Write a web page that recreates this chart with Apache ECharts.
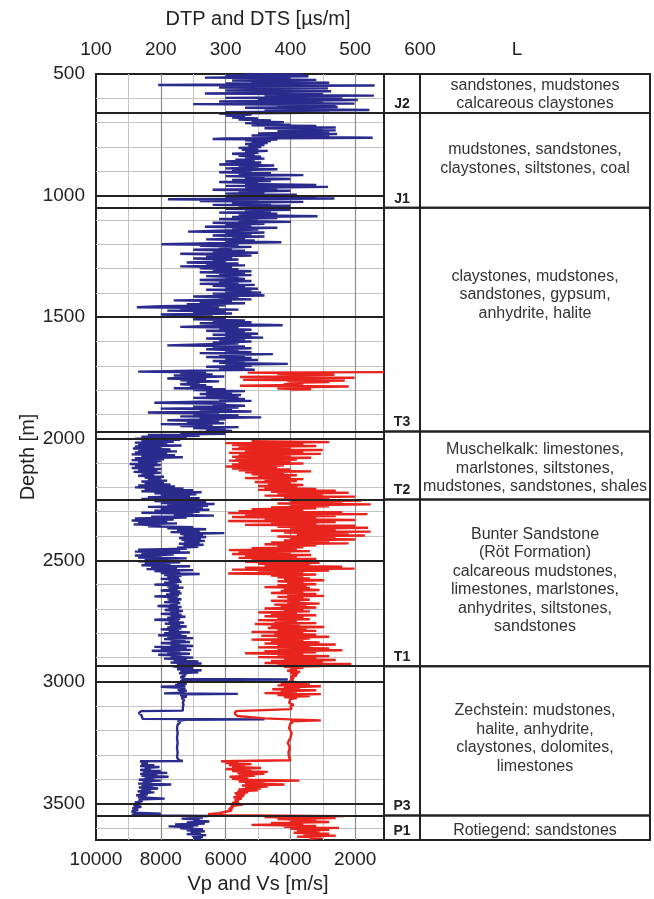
<!DOCTYPE html>
<html><head><meta charset="utf-8">
<script src="https://cdn.jsdelivr.net/npm/echarts@6/dist/echarts.min.js"></script>
<style>html,body{margin:0;padding:0;background:#fff}#c{width:654px;height:899px}</style>
</head><body><div id="c"></div>
<script>
// ---------- DATA ----------
const depthTicks = [500, 1000, 1500, 2000, 2500, 3000, 3500];
const dtTicks = [100, 200, 300, 400, 500, 600];
const velocityTicks = [10000, 8000, 6000, 4000, 2000];

const formationCodes = ['J2', 'J1', 'T3', 'T2', 'T1', 'P3', 'P1'];
const formationTops  = [500, 660, 1050, 1970, 2250, 2935, 3549];
const formationBases = [660, 1050, 1970, 2250, 2935, 3549, 3650];
const lithology = [
  'sandstones, mudstones\ncalcareous claystones',
  'mudstones, sandstones,\nclaystones, siltstones, coal',
  'claystones, mudstones,\nsandstones, gypsum,\nanhydrite, halite',
  'Muschelkalk: limestones,\nmarlstones, siltstones,\nmudstones, sandstones, shales',
  'Bunter Sandstone\n(Röt Formation)\ncalcareous mudstones,\nlimestones, marlstones,\nanhydrites, siltstones,\nsandstones',
  'Zechstein: mudstones,\nhalite, anhydrite,\nclaystones, dolomites,\nlimestones',
  'Rotiegend: sandstones'
];

// DTP log: [depth m, DT us/m]
const dtpLog = [
[500,330],[503,420],[506,300],[509,428],[512,350],[515,268],[518,400],[521,360],[524,440],[527,310],[530,410],[533,340],[536,460],[539,300],[542,380],[545,196],[547,530],[550,330],[553,420],[556,290],[559,458],[562,340],[565,400],[568,300],[571,463],[574,350],[577,420],[580,268],[583,450],[586,380],[589,529],[592,360],[595,440],[598,300],[601,480],[604,350],[607,504],[610,400],[613,290],[616,450],[619,360],[622,499],[624,250],[627,420],[630,470],[633,380],[636,473],[639,330],[642,440],[645,400],[648,522],[651,360],[654,460],[657,300],[660,427],
[663,290],[667,340],[671,300],[675,330],[679,310],[683,350],[687,320],[691,370],[695,340],[698,390],[702,330],[705,360],[708,400],[711,340],[714,440],[717,380],[720,470],[723,360],[726,450],[729,400],[732,470],[735,380],[738,460],[741,420],[744,350],[747,472],[750,400],[753,340],[756,460],[759,420],[762,527],[765,300],[767,280],[770,380],[773,330],[776,370],[780,340],[784,365],[788,330],[792,360],[796,335],[800,355],[804,320],[808,350],[812,325],[816,365],[820,330],[824,350],[828,310],[832,345],[836,320],[840,355],[844,330],[848,360],[852,315],[856,345],[860,300],[864,355],[868,330],[872,290],[876,375],[880,320],[884,350],[888,300],[892,380],[896,310],[900,340],[904,290],[908,370],[912,320],[916,420],[920,300],[924,360],[928,330],[932,400],[936,310],[940,370],[944,290],[948,350],[952,330],[956,440],[960,300],[964,458],[968,330],[972,380],[976,280],[980,400],[984,320],[988,360],[992,300],[996,410],[1000,330],[1004,440],[1008,300],[1012,468],[1015,211],[1018,350],[1022,260],[1026,420],[1030,310],[1034,370],[1038,280],[1042,400],[1046,320],[1050,350],
[1054,300],[1058,400],[1062,330],[1066,370],[1070,290],[1074,380],[1078,320],[1082,360],[1085,442],[1088,310],[1092,380],[1096,290],[1100,350],[1104,320],[1108,401],[1112,280],[1116,360],[1120,300],[1124,340],[1128,268],[1132,380],[1136,310],[1140,350],[1144,290],[1148,242],[1152,360],[1156,300],[1160,340],[1164,280],[1168,360],[1172,310],[1176,330],[1180,270],[1184,345],[1188,300],[1192,386],[1196,280],[1200,201],[1203,320],[1207,260],[1211,340],[1215,290],[1219,310],[1223,250],[1227,330],[1231,280],[1235,350],[1239,230],[1243,300],[1247,340],[1251,270],[1255,310],[1259,250],[1263,320],[1267,280],[1271,300],[1275,240],[1279,320],[1283,270],[1287,330],[1291,230],[1295,310],[1299,260],[1303,320],[1307,280],[1311,340],[1315,260],[1319,330],[1323,290],[1327,340],[1331,270],[1335,320],[1339,300],[1343,330],[1347,260],[1351,340],[1355,290],[1359,320],[1363,260],[1367,345],[1371,280],[1375,330],[1379,300],[1383,350],[1387,270],[1391,340],[1395,300],[1399,355],[1403,280],[1407,340],[1411,360],[1415,250],[1419,320],[1423,290],[1427,340],[1431,220],[1435,310],[1439,260],[1443,330],[1447,240],[1451,300],[1455,200],[1459,163],[1462,290],[1465,230],[1469,320],[1473,210],[1477,300],[1481,250],[1485,310],[1489,200],[1493,280],[1497,230],[1501,270],[1505,300],[1509,250],[1513,330],[1517,280],[1521,340],[1525,260],[1529,320],[1533,388],[1536,280],[1540,230],[1544,320],[1548,290],[1552,340],[1556,270],[1560,330],[1564,300],[1568,350],[1572,280],[1576,340],[1580,300],[1584,358],[1588,270],[1592,330],[1596,290],[1600,340],[1604,280],[1608,320],[1612,260],[1616,210],[1620,330],[1624,280],[1628,340],[1632,270],[1636,320],[1640,300],[1644,340],[1648,260],[1652,373],[1656,290],[1660,330],[1664,270],[1668,340],[1672,300],[1676,350],[1680,280],[1684,330],[1688,290],[1692,396],[1696,300],[1700,340],[1704,270],[1708,330],[1712,290],[1716,345],[1720,250],[1724,165],[1728,270],[1732,230],[1736,280],[1740,220],[1744,298],[1748,240],[1752,210],[1756,270],[1760,230],[1764,290],[1768,240],[1772,260],[1776,230],[1780,270],[1784,245],[1788,280],[1792,220],[1796,300],[1800,250],[1804,330],[1808,270],[1812,310],[1816,260],[1820,324],[1824,270],[1828,320],[1832,250],[1836,330],[1840,290],[1844,340],[1848,260],[1852,190],[1856,300],[1860,280],[1864,330],[1868,250],[1872,320],[1876,200],[1880,310],[1884,260],[1888,340],[1892,180],[1896,290],[1900,250],[1904,320],[1908,230],[1912,355],[1916,260],[1920,300],[1924,210],[1928,290],[1932,240],[1936,298],[1940,200],[1944,280],[1948,230],[1952,320],[1956,250],[1960,300],[1964,270],[1968,310],[1972,260],
[1976,230],[1980,300],[1984,180],[1988,260],[1992,170],[1996,240],[2000,160],[2004,230],[2008,170],[2012,220],[2016,160],[2020,210],[2024,165],[2028,232],[2032,160],[2036,200],[2040,157],[2044,215],[2048,165],[2052,225],[2056,160],[2060,210],[2064,155],[2068,222],[2072,170],[2076,234],[2080,160],[2084,205],[2088,155],[2092,200],[2096,165],[2100,195],[2104,152],[2108,200],[2112,160],[2116,190],[2120,155],[2124,201],[2128,165],[2132,195],[2136,158],[2140,200],[2144,170],[2148,190],[2152,165],[2156,205],[2160,175],[2164,200],[2168,180],[2172,210],[2176,170],[2180,205],[2184,175],[2188,215],[2192,165],[2196,222],[2200,160],[2204,235],[2208,175],[2212,250],[2216,170],[2220,263],[2224,190],[2228,255],[2232,200],[2236,245],[2240,180],[2244,260],[2248,170],[2252,240],
[2256,190],[2260,270],[2264,200],[2268,283],[2272,210],[2276,273],[2280,180],[2284,265],[2288,200],[2292,275],[2296,190],[2300,260],[2304,170],[2308,250],[2312,220],[2316,282],[2320,185],[2324,240],[2328,160],[2332,220],[2336,155],[2340,210],[2344,165],[2348,225],[2352,158],[2356,200],[2360,180],[2364,250],[2368,210],[2372,270],[2376,225],[2380,260],[2384,215],[2388,298],[2392,230],[2396,265],[2400,235],[2404,270],[2408,228],[2412,262],[2416,232],[2420,268],[2424,236],[2428,260],[2432,228],[2436,266],[2440,235],[2444,258],[2448,225],[2452,240],[2456,165],[2460,230],[2464,160],[2468,245],[2472,170],[2476,220],[2480,160],[2484,200],[2488,165],[2492,240],[2496,175],[2500,210],[2504,165],[2508,230],[2512,175],[2516,215],[2520,170],[2524,245],[2528,185],[2532,225],[2536,178],[2540,250],[2544,190],[2548,230],[2552,200],[2556,260],[2560,205],[2564,232],[2568,210],[2572,228],[2576,200],[2580,230],[2584,212],[2588,232],[2592,205],[2596,225],[2600,190],[2604,228],[2608,210],[2612,235],[2616,212],[2620,226],[2624,200],[2628,230],[2632,214],[2636,232],[2640,208],[2644,228],[2648,190],[2652,226],[2656,210],[2660,232],[2664,212],[2668,228],[2672,205],[2676,230],[2680,214],[2684,226],[2688,195],[2692,232],[2696,212],[2700,228],[2704,206],[2708,234],[2712,214],[2716,228],[2720,200],[2724,232],[2728,215],[2732,238],[2736,210],[2740,230],[2744,190],[2748,228],[2752,212],[2756,236],[2760,206],[2764,230],[2768,214],[2772,240],[2776,210],[2780,232],[2784,200],[2788,228],[2792,212],[2796,245],[2800,205],[2804,232],[2808,196],[2812,240],[2816,210],[2820,250],[2824,205],[2828,238],[2832,215],[2836,245],[2840,200],[2844,230],[2848,215],[2852,250],[2856,190],[2860,240],[2864,200],[2868,247],[2872,186],[2876,230],[2880,210],[2884,245],[2888,196],[2892,232],[2896,215],[2900,250],[2904,205],[2908,240],[2912,220],[2916,258],[2920,215],[2924,263],[2928,225],[2932,248],[2936,218],
[2940,215],[2944,250],[2948,225],[2952,263],[2956,230],[2960,258],[2964,228],[2968,240],[2972,232],[2976,238],[2980,230],[2984,236],[2988,232],[2990,396],[2992,240],[2996,230],[3000,236],[3004,225],[3008,240],[3012,222],[3016,238],[3020,200],[3024,232],[3028,238],[3032,226],[3036,240],[3040,228],[3044,236],[3047,205],[3049,319],[3051,236],[3055,230],[3060,240],[3066,232],[3074,236],[3084,234],[3094,235],[3104,234],[3112,236],[3118,234],[3120,170],[3128,166],[3136,170],[3144,168],[3152,172],[3154,360],[3156,240],[3160,226],[3166,230],[3175,226],[3190,225],[3210,226],[3230,225],[3250,226],[3270,225],[3290,226],[3310,225],[3322,228],[3325,234],[3326,168],
[3330,166],[3334,180],[3338,170],[3342,190],[3346,168],[3350,198],[3354,175],[3358,185],[3362,168],[3366,200],[3370,172],[3374,210],[3378,168],[3382,195],[3386,170],[3390,212],[3394,175],[3398,190],[3402,166],[3406,200],[3410,172],[3414,186],[3418,165],[3422,216],[3426,170],[3430,188],[3434,166],[3438,196],[3442,170],[3446,185],[3450,164],[3454,190],[3458,168],[3462,180],[3466,162],[3470,178],[3474,165],[3480,206],[3484,166],[3490,172],[3496,160],[3502,168],[3508,158],[3514,170],[3520,156],[3526,165],[3532,155],[3538,160],[3542,200],[3546,155],[3549,200],[3551,273],
[3554,240],[3558,265],[3562,232],[3566,260],[3570,250],[3574,275],[3578,240],[3582,268],[3586,222],[3590,258],[3594,212],[3598,250],[3602,230],[3606,265],[3610,240],[3614,268],[3618,246],[3622,262],[3626,240],[3630,270],[3634,248],[3638,265],[3642,250],[3646,262]
];

// DTS log, upper interval: [depth m, DT us/m]
const dtsLogUpper = [
[1726,545],[1728,334],[1731,420],[1734,380],[1737,468],[1740,390],[1743,430],[1746,322],[1749,499],[1752,400],[1755,440],[1758,327],[1761,484],[1764,395],[1767,460],[1770,400],[1773,420],[1776,390],[1779,410],[1782,322],[1785,490],[1788,400],[1791,420],[1794,380],[1797,432],[1800,400]
];

// DTS log, lower interval
const dtsLogLower = [
[2010,340],[2014,460],[2018,300],[2022,420],[2026,310],[2030,440],[2034,320],[2038,400],[2042,310],[2046,450],[2050,330],[2054,420],[2058,305],[2062,447],[2066,320],[2070,400],[2074,310],[2078,432],[2082,315],[2086,410],[2090,305],[2094,400],[2098,320],[2102,420],[2106,310],[2110,390],[2114,300],[2118,380],[2122,310],[2126,400],[2130,320],[2134,432],[2138,330],[2142,390],[2146,340],[2150,410],[2154,350],[2158,400],[2162,330],[2166,420],[2170,360],[2174,410],[2178,345],[2182,400],[2186,365],[2190,420],[2194,350],[2198,411],[2202,360],[2206,440],[2210,350],[2214,470],[2218,370],[2222,490],[2226,380],[2230,450],[2234,360],[2238,500],[2242,390],[2246,460],[2250,370],[2254,510],[2258,400],[2262,480],[2266,380],[2270,524],[2274,400],[2278,460],[2282,370],[2286,440],[2290,340],[2294,420],[2298,320],[2302,480],[2306,304],[2310,519],[2314,330],[2318,470],[2322,310],[2326,440],[2330,360],[2334,500],[2338,304],[2342,470],[2346,370],[2350,440],[2354,330],[2358,500],[2362,380],[2366,520],[2370,400],[2374,470],[2378,370],[2382,524],[2386,390],[2390,490],[2394,410],[2398,515],[2402,380],[2406,470],[2410,400],[2414,500],[2418,390],[2422,460],[2426,370],[2430,490],[2434,360],[2438,440],[2442,380],[2446,420],[2450,340],[2454,410],[2458,305],[2462,430],[2466,320],[2470,400],[2474,310],[2478,432],[2482,330],[2486,410],[2490,320],[2494,440],[2498,340],[2502,420],[2506,330],[2510,445],[2514,350],[2518,430],[2522,360],[2526,480],[2530,330],[2534,499],[2538,310],[2542,460],[2546,350],[2550,420],[2554,304],[2558,440],[2562,370],[2566,420],[2570,380],[2574,430],[2578,390],[2582,452],[2586,380],[2590,420],[2594,395],[2598,440],[2602,380],[2606,425],[2610,360],[2614,430],[2618,390],[2622,445],[2626,385],[2630,420],[2634,370],[2638,440],[2642,395],[2646,452],[2650,380],[2654,420],[2658,395],[2662,430],[2666,370],[2670,415],[2674,395],[2678,445],[2682,375],[2686,425],[2690,385],[2694,440],[2698,360],[2702,420],[2706,390],[2710,430],[2714,350],[2718,410],[2722,370],[2726,440],[2730,360],[2734,420],[2738,380],[2742,430],[2746,350],[2750,410],[2754,375],[2758,440],[2762,345],[2766,415],[2770,370],[2774,452],[2778,365],[2782,425],[2786,380],[2790,440],[2794,340],[2798,420],[2802,375],[2806,440],[2810,355],[2814,460],[2818,380],[2822,430],[2826,340],[2830,420],[2834,370],[2838,445],[2842,360],[2846,470],[2850,380],[2854,430],[2858,350],[2862,460],[2866,380],[2870,480],[2874,360],[2878,440],[2882,330],[2886,420],[2890,380],[2894,460],[2898,350],[2902,440],[2906,390],[2910,470],[2914,370],[2918,450],[2922,360],[2926,494],[2930,380],[2934,460],
[2938,390],[2942,420],[2946,400],[2950,410],[2954,395],[2958,415],[2962,400],[2966,412],[2970,402],[2974,410],[2978,400],[2982,406],[2986,400],[2990,401],[2994,405],[2998,398],[3002,408],[3006,385],[3010,430],[3014,380],[3018,447],[3022,390],[3026,415],[3030,372],[3034,440],[3038,385],[3042,410],[3046,360],[3050,447],[3054,380],[3058,430],[3062,390],[3066,410],[3070,400],[3078,402],[3086,398],[3094,405],[3100,400],[3106,400],[3112,402],[3118,400],[3120,316],[3130,314],[3140,318],[3150,360],[3154,400],[3158,447],[3162,400],[3166,404],[3170,400],[3190,398],[3210,402],[3230,400],[3250,396],[3270,399],[3290,397],[3310,398],[3322,400],[3326,293],[3330,320],[3334,300],[3338,340],[3342,305],[3346,330],[3350,310],[3354,355],[3358,300],[3362,340],[3366,310],[3370,365],[3374,318],[3378,360],[3382,320],[3386,345],[3390,306],[3394,335],[3398,310],[3402,330],[3406,414],[3410,320],[3414,360],[3418,330],[3422,391],[3426,325],[3430,365],[3434,330],[3438,355],[3442,320],[3446,350],[3450,318],[3454,335],[3458,314],[3462,330],[3466,316],[3470,328],[3474,312],[3480,325],[3486,314],[3492,320],[3498,310],[3504,327],[3510,308],[3516,312],[3522,305],[3528,310],[3534,300],[3540,290],[3544,273],[3548,300],
[3552,483],[3556,360],[3560,470],[3564,380],[3568,440],[3572,400],[3576,460],[3580,370],[3584,420],[3588,340],[3592,440],[3596,390],[3600,475],[3604,400],[3608,460],[3612,410],[3616,445],[3620,405],[3624,460],[3628,420],[3632,470],[3636,410],[3640,450],[3645,430]
];

// ---------- LAYOUT / STYLE ----------
const FONT = '"Liberation Sans", Arial, Helvetica, sans-serif';
const L = { left: 96, top: 74, height: 766, dataRight: 384, colSplit: 420, right: 650 };
const pxPerDt = (L.colSplit - L.left) / (dtTicks[dtTicks.length - 1] - dtTicks[0]);
const dataMaxDt = dtTicks[0] + (L.dataRight - L.left) / pxPerDt;
const splitFrac = (L.colSplit - L.dataRight) / (L.right - L.dataRight);
const lithOffset = [1, -1, -25, 3, -2, -2, 3];
const BLUE = '#2b2b8e', RED = '#e8241e', INK = '#222';
const depthMin = 500, depthMax = 3650;
const LW = 2.4;

const toXY = arr => arr.map(p => [p[1], p[0]]);

const chart = echarts.init(document.getElementById('c'), null, { renderer: 'canvas' });
chart.setOption({
  backgroundColor: '#fff',
  animation: false,
  grid: [
    { left: L.left, top: L.top, width: L.dataRight - L.left, height: L.height, show: true, borderColor: INK, borderWidth: 2, backgroundColor: 'transparent' },
    { left: L.dataRight, top: L.top, width: L.right - L.dataRight, height: L.height },
    { left: L.left, top: L.top, width: L.colSplit - L.left, height: L.height }
  ],
  xAxis: [
    { gridIndex: 0, type: 'value', position: 'top', min: dtTicks[0], max: dataMaxDt, interval: 50,
      axisLine: { show: false }, axisTick: { show: false }, axisLabel: { show: false },
      splitLine: { show: true, showMinLine: false, showMaxLine: false, lineStyle: { color: '#c4c4c4', width: 1 } } },
    { gridIndex: 0, type: 'value', position: 'bottom', min: dtTicks[0], max: dataMaxDt, interval: 100,
      axisLine: { show: false }, axisTick: { show: false }, axisLabel: { show: false },
      splitLine: { show: true, showMinLine: false, showMaxLine: false, lineStyle: { color: '#8e8e8e', width: 1.2 } } },
    { gridIndex: 2, type: 'value', position: 'top', min: dtTicks[0], max: dtTicks[dtTicks.length - 1], interval: 100,
      axisLine: { show: false }, axisTick: { show: false }, splitLine: { show: false },
      axisLabel: { margin: 15, fontSize: 19, color: INK, fontFamily: FONT, formatter: v => dtTicks.includes(v) ? String(v) : '' },
      name: 'DTP and DTS [µs/m]', nameLocation: 'middle', nameGap: 45,
      nameTextStyle: { fontSize: 20, color: INK, fontFamily: FONT } },
    { gridIndex: 2, type: 'value', position: 'bottom', inverse: true, min: 0, max: 10000, interval: 2000,
      axisLine: { show: false }, axisTick: { show: false }, splitLine: { show: false },
      axisLabel: { margin: 13, fontSize: 19, color: INK, fontFamily: FONT, formatter: v => velocityTicks.includes(v) ? String(v) : '' },
      name: 'Vp and Vs [m/s]', nameLocation: 'middle', nameGap: 34,
      nameTextStyle: { fontSize: 20, color: INK, fontFamily: FONT } },
    { gridIndex: 1, type: 'value', position: 'top', min: 0, max: 1,
      axisLine: { show: false }, axisTick: { show: false }, axisLabel: { show: false }, splitLine: { show: false },
      name: 'L', nameLocation: 'middle', nameGap: 15,
      nameTextStyle: { fontSize: 19, color: INK, fontFamily: FONT } }
  ],
  yAxis: [
    { gridIndex: 0, type: 'value', position: 'left', inverse: true, min: depthMin, max: depthMax, interval: 100,
      axisLine: { show: false }, axisTick: { show: false }, axisLabel: { show: false },
      splitLine: { show: true, showMinLine: false, showMaxLine: false, lineStyle: { color: '#c4c4c4', width: 1 } } },
    { gridIndex: 0, type: 'value', position: 'left', inverse: true, min: depthMin, max: depthMax, interval: 500, z: 5,
      axisLine: { show: false }, axisTick: { show: false },
      axisLabel: { margin: 11, fontSize: 19, color: INK, fontFamily: FONT, formatter: v => depthTicks.includes(v) ? String(v) : '' },
      splitLine: { show: true, showMinLine: false, showMaxLine: false, lineStyle: { color: INK, width: 2 } },
      name: 'Depth [m]', nameLocation: 'middle', nameGap: 58,
      nameTextStyle: { fontSize: 20, color: INK, fontFamily: FONT } },
    { gridIndex: 1, type: 'value', inverse: true, min: depthMin, max: depthMax, show: false },
    { gridIndex: 2, type: 'value', inverse: true, min: depthMin, max: depthMax, show: false }
  ],
  series: [
    { name: 'DTP', type: 'line', xAxisIndex: 0, yAxisIndex: 0, data: toXY(dtpLog),
      showSymbol: false, symbol: 'none', clip: true,
      lineStyle: { color: BLUE, width: LW }, z: 3,
      markLine: { silent: true, symbol: ['none', 'none'], label: { show: false },
        lineStyle: { color: INK, width: 2, type: 'solid' }, emphasis: { disabled: true },
        data: formationTops.slice(1).map(v => ({ yAxis: v })) } },
    { name: 'DTS', type: 'line', xAxisIndex: 0, yAxisIndex: 0, data: toXY(dtsLogUpper),
      showSymbol: false, symbol: 'none', clip: true, lineStyle: { color: RED, width: LW }, z: 3 },
    { name: 'DTS2', type: 'line', xAxisIndex: 0, yAxisIndex: 0, data: toXY(dtsLogLower),
      showSymbol: false, symbol: 'none', clip: true, lineStyle: { color: RED, width: LW }, z: 3 },
    { name: 'Formations', type: 'custom', xAxisIndex: 4, yAxisIndex: 2, silent: true,
      data: formationCodes.map((c, i) => [0, formationTops[i], formationBases[i], i]),
      encode: { x: 0, y: [1, 2] },
      renderItem: (params, api) => {
        const top = api.value(1), base = api.value(2), i = api.value(3);
        const p0 = api.coord([0, top]);
        const p1 = api.coord([1, base]);
        const xs = api.coord([splitFrac, top])[0];
        const x0 = p0[0], y0 = p0[1], x1 = p1[0], y1 = p1[1];
        return { type: 'group', children: [
          { type: 'rect', shape: { x: x0, y: y0, width: xs - x0, height: y1 - y0 }, style: { fill: 'none', stroke: INK, lineWidth: 2 } },
          { type: 'rect', shape: { x: xs, y: y0, width: x1 - xs, height: y1 - y0 }, style: { fill: 'none', stroke: INK, lineWidth: 2 } },
          { type: 'text', style: { text: formationCodes[i], x: (x0 + xs) / 2, y: y1 - 2, align: 'center', verticalAlign: 'bottom',
              fontSize: 14, fontWeight: 'bold', fontFamily: FONT, fill: INK } },
          { type: 'text', style: { text: lithology[i], x: (xs + x1) / 2, y: (y0 + y1) / 2 + lithOffset[i], align: 'center', verticalAlign: 'middle',
              fontSize: 16, lineHeight: 18.5, fontFamily: FONT, fill: '#333' } }
        ] };
      } }
  ]
});
</script>
</body></html>
